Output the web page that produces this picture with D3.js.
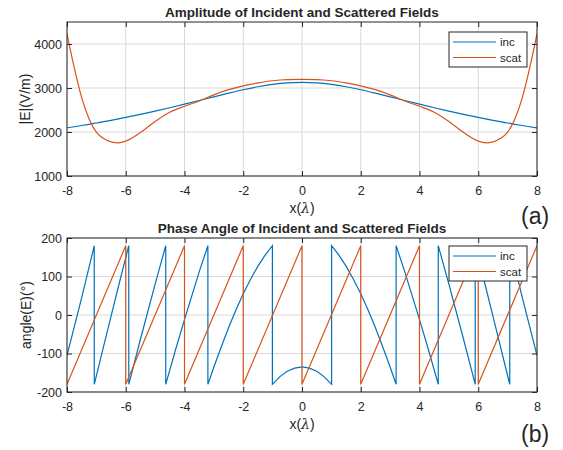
<!DOCTYPE html>
<html>
<head>
<meta charset="utf-8">
<script src="https://cdn.jsdelivr.net/npm/d3@7"></script>
<style>
  body { margin: 0; background: #fff; }
  svg text { font-family: "Liberation Sans", Arial, sans-serif; fill: #262626; }
</style>
</head>
<body>
<div id="chart"></div>
<script>
// ---- data ----
const xTicks = [-8, -6, -4, -2, 0, 2, 4, 6, 8]
const ampTicks = [1000, 2000, 3000, 4000]
const phaseTicks = [-200, -100, 0, 100, 200]
const seriesNames = ['inc', 'scat']
const seriesColors = ['#0072BD', '#D95319']

// amplitude |E| (V/m)
const ampX = [-8, -7.75, -7.5, -7.25, -7, -6.75, -6.5, -6.25, -6, -5.5, -5, -4.5, -4, -3.5, -3, -2.5, -2, -1.5, -1, -0.5,
  0, 0.5, 1, 1.5, 2, 2.5, 3, 3.5, 4, 4.5, 5, 5.5, 6, 6.25, 6.5, 6.75, 7, 7.25, 7.5, 7.75, 8]
const incAmp = [2094, 2120, 2147, 2175, 2205, 2235, 2266, 2298, 2331, 2400, 2474, 2551, 2632, 2715, 2800, 2882, 2960, 3029, 3083, 3118,
  3130, 3118, 3083, 3029, 2960, 2882, 2800, 2715, 2632, 2551, 2474, 2400, 2331, 2298, 2266, 2235, 2205, 2175, 2147, 2120, 2094]
const scatAmp = [4230, 3450, 2780, 2300, 1995, 1850, 1775, 1755, 1795, 1990, 2240, 2450, 2585, 2705, 2845, 2962, 3050, 3115, 3165, 3190,
  3195, 3190, 3165, 3115, 3050, 2962, 2845, 2705, 2585, 2450, 2240, 1990, 1795, 1755, 1775, 1850, 1995, 2300, 2780, 3450, 4230]

// phase angle (deg), wrapped; repeated x marks a wrap
const incPhX = [-8, -7.5, -7.072, -7.072, -6.5, -6.2, -5.897, -5.897, -5.5, -5, -4.639, -4.639, -4.3, -4, -3.5, -3.204, -3.204,
  -3, -2.75, -2.5, -2.25, -2, -1.75, -1.5, -1.25, -1.008, -1.008, -0.75, -0.5, -0.25,
  0, 0.25, 0.5, 0.75, 1.008, 1.008, 1.25, 1.5, 1.75, 2, 2.25, 2.5, 2.75, 3,
  3.204, 3.204, 3.5, 4, 4.3, 4.639, 4.639, 5, 5.5, 5.897, 5.897, 6.2, 6.5, 7.072, 7.072, 7.5, 8]
const incPhDeg = [-105, 45, 180, -180, -3, 89, 180, -180, -63, 80, 180, -180, -89, -12, 112, 180, -180,
  -135, -83, -33, 13, 55, 93, 127, 156, 180, -180, -160, -146, -138,
  -135, -138, -146, -160, -180, 180, 156, 127, 93, 55, 13, -33, -83, -135,
  -180, 180, 112, -12, -89, -180, 180, 80, -63, -180, 180, 89, -3, -180, 180, 45, -105]
const scatPhX = [-8, -6, -6, -4, -4, -2, -2, 0, 0, 2, 2, 4, 4, 6, 6, 8]
const scatPhDeg = [-180, 180, -180, 180, -180, 180, -180, 180, -180, 180, -180, 180, -180, 180, -180, 180]

// ---- layout ----
const width = 563, height = 450
const left = 67, right = 537

const svg = d3.select('#chart').append('svg')
  .attr('width', width)
  .attr('height', height)

const x = d3.scaleLinear().domain([-8, 8]).range([left, right])
const fmt = d => String(d)

function drawPanel(p) {
  const y = d3.scaleLinear().domain(p.yDomain).range([p.bottom, p.top])
  const g = svg.append('g')

  // grid
  g.append('g').selectAll('line').data(xTicks).enter().append('line')
    .attr('x1', d => x(d)).attr('x2', d => x(d))
    .attr('y1', p.top).attr('y2', p.bottom)
    .attr('stroke', '#d9d9d9').attr('stroke-width', 1)
  g.append('g').selectAll('line').data(p.yTicks).enter().append('line')
    .attr('x1', left).attr('x2', right)
    .attr('y1', d => y(d)).attr('y2', d => y(d))
    .attr('stroke', '#d9d9d9').attr('stroke-width', 1)

  // lines
  const clipId = 'clip' + p.id
  svg.append('clipPath').attr('id', clipId).append('rect')
    .attr('x', left).attr('y', p.top).attr('width', right - left).attr('height', p.bottom - p.top)
  const line = d3.line().x(d => x(d[0])).y(d => y(d[1])).curve(p.curve)
  p.series.forEach((s, i) => {
    g.append('path')
      .datum(s.xs.map((v, j) => [v, s.ys[j]]))
      .attr('clip-path', `url(#${clipId})`)
      .attr('d', line)
      .attr('fill', 'none')
      .attr('stroke', seriesColors[i])
      .attr('stroke-width', 1.2)
  })

  // axes, ticks inward on all sides
  const ax = (sel) => { sel.select('.domain').remove(); sel.selectAll('line').attr('stroke', '#262626') }
  const lbl = (sel) => sel.selectAll('text').attr('font-size', 12.5).attr('font-family', null).attr('fill', '#262626')
  g.append('g').attr('transform', `translate(0,${p.bottom})`)
    .call(d3.axisBottom(x).tickValues(xTicks).tickFormat(fmt).tickSize(-5).tickPadding(10))
    .call(ax).call(lbl)
  g.append('g').attr('transform', `translate(0,${p.top})`)
    .call(d3.axisTop(x).tickValues(xTicks).tickSize(-5).tickFormat(''))
    .call(ax)
  g.append('g').attr('transform', `translate(${left},0)`)
    .call(d3.axisLeft(y).tickValues(p.yTicks).tickFormat(fmt).tickSize(-5).tickPadding(5))
    .call(ax).call(lbl)
  g.append('g').attr('transform', `translate(${right},0)`)
    .call(d3.axisRight(y).tickValues(p.yTicks).tickSize(-5).tickFormat(''))
    .call(ax)

  g.append('rect')
    .attr('x', left).attr('y', p.top).attr('width', right - left).attr('height', p.bottom - p.top)
    .attr('fill', 'none').attr('stroke', '#262626').attr('stroke-width', 1)

  // title and labels
  g.append('text').attr('x', (left + right) / 2).attr('y', p.top - 5)
    .attr('text-anchor', 'middle').attr('font-size', 13.5).attr('font-weight', 'bold')
    .attr('fill', '#000').text(p.title)

  const xl = g.append('text').attr('x', (left + right) / 2).attr('y', p.bottom + 37)
    .attr('text-anchor', 'middle').attr('font-size', 14)
  xl.append('tspan').text('x(')
  xl.append('tspan').attr('font-family', '"DejaVu Serif", serif').attr('font-style', 'italic').text('λ')
  xl.append('tspan').text(')')

  g.append('text')
    .attr('transform', `translate(${p.ylabelX},${(p.top + p.bottom) / 2}) rotate(-90)`)
    .attr('text-anchor', 'middle').attr('font-size', 14).text(p.ylabel)

  g.append('text').attr('x', 521).attr('y', p.letterY)
    .attr('font-family', 'Lato, "Open Sans", sans-serif').attr('font-size', 23)
    .attr('fill', '#000').text(p.letter)

  // legend
  const lg = g.append('g').attr('transform', `translate(449,${p.legendTop})`)
  lg.append('rect').attr('x', 0).attr('y', 0).attr('width', 78).attr('height', 35)
    .attr('fill', '#fff').attr('stroke', '#262626').attr('stroke-width', 1)
  seriesNames.forEach((name, i) => {
    const cy = 10 + i * 15.5
    lg.append('line').attr('x1', 4).attr('x2', 47).attr('y1', cy).attr('y2', cy)
      .attr('stroke', seriesColors[i]).attr('stroke-width', 1.2)
    lg.append('text').attr('x', 51).attr('y', cy).attr('dy', '0.35em')
      .attr('font-size', 11.5).text(name)
  })
}

drawPanel({
  id: 'a', top: 22, bottom: 176, yDomain: [1000, 4500], yTicks: ampTicks,
  title: 'Amplitude of Incident and Scattered Fields', ylabel: '|E|(V/m)', ylabelX: 30,
  letter: '(a)', letterY: 224, legendTop: 32, curve: d3.curveMonotoneX,
  series: [{ xs: ampX, ys: incAmp }, { xs: ampX, ys: scatAmp }]
})

drawPanel({
  id: 'b', top: 238, bottom: 392, yDomain: [-200, 200], yTicks: phaseTicks,
  title: 'Phase Angle of Incident and Scattered Fields', ylabel: 'angle(E)(°)', ylabelX: 31,
  letter: '(b)', letterY: 442, legendTop: 246, curve: d3.curveLinear,
  series: [{ xs: incPhX, ys: incPhDeg }, { xs: scatPhX, ys: scatPhDeg }]
})
</script>
</body>
</html>
